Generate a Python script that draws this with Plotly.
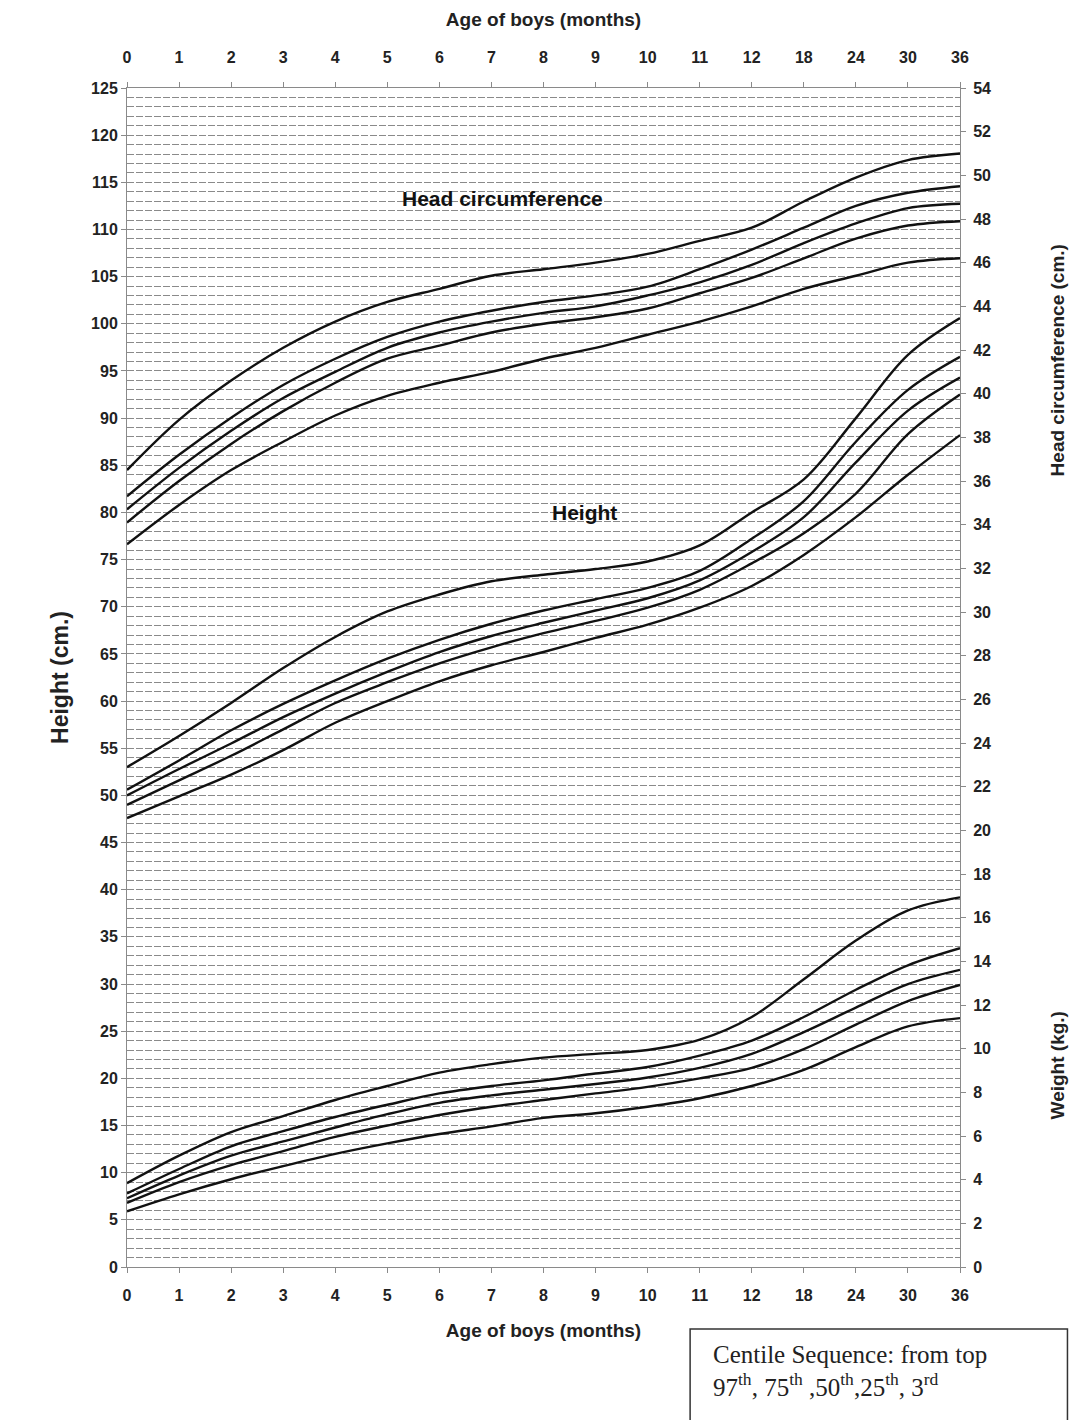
import plotly.graph_objects as go

# ---------------- data ----------------
age_labels = ["0", "1", "2", "3", "4", "5", "6", "7", "8", "9", "10", "11", "12",
              "18", "24", "30", "36"]
age_pos = list(range(len(age_labels)))
centiles = ["97th", "75th", "50th", "25th", "3rd"]

# Head circumference (cm) - right axis
head_97 = [36.5, 38.8, 40.6, 42.1, 43.3, 44.2, 44.8, 45.4, 45.7, 46.0, 46.4, 47.0, 47.6, 48.8, 49.9, 50.7, 51.0]
head_75 = [35.3, 37.2, 38.9, 40.4, 41.6, 42.6, 43.3, 43.8, 44.2, 44.5, 44.9, 45.7, 46.6, 47.6, 48.6, 49.2, 49.5]
head_50 = [34.7, 36.6, 38.3, 39.8, 41.0, 42.1, 42.8, 43.3, 43.7, 44.0, 44.5, 45.1, 45.9, 46.9, 47.8, 48.5, 48.7]
head_25 = [34.1, 36.0, 37.7, 39.2, 40.5, 41.6, 42.2, 42.8, 43.2, 43.5, 43.9, 44.6, 45.3, 46.2, 47.1, 47.7, 47.9]
head_3 = [33.1, 34.9, 36.5, 37.8, 39.0, 39.9, 40.5, 41.0, 41.6, 42.1, 42.7, 43.3, 44.0, 44.8, 45.4, 46.0, 46.2]

# Height (cm) - left axis
height_97 = [53.0, 56.3, 59.8, 63.5, 66.8, 69.5, 71.3, 72.7, 73.4, 74.0, 74.8, 76.5, 80.0, 83.5, 90.0, 96.7, 100.6]
height_75 = [50.6, 53.7, 56.9, 59.7, 62.2, 64.5, 66.5, 68.2, 69.6, 70.8, 72.0, 73.8, 77.2, 81.2, 87.5, 93.0, 96.5]
height_50 = [50.0, 52.8, 55.5, 58.3, 60.8, 63.1, 65.2, 66.9, 68.3, 69.6, 70.9, 72.8, 75.8, 79.5, 85.3, 90.8, 94.3]
height_25 = [49.0, 51.6, 54.2, 57.0, 59.8, 62.0, 64.0, 65.7, 67.2, 68.5, 69.9, 71.8, 74.6, 77.8, 82.0, 88.3, 92.5]
height_3 = [47.6, 49.9, 52.2, 54.8, 57.7, 60.0, 62.1, 63.8, 65.2, 66.7, 68.1, 69.9, 72.2, 75.5, 79.5, 84.0, 88.2]

# Weight (kg) - right axis
weight_97 = [3.84, 5.10, 6.18, 6.91, 7.65, 8.29, 8.90, 9.29, 9.59, 9.76, 9.94, 10.41, 11.45, 13.18, 14.95, 16.33, 16.93]
weight_75 = [3.37, 4.49, 5.53, 6.22, 6.87, 7.43, 7.95, 8.29, 8.55, 8.86, 9.16, 9.68, 10.37, 11.45, 12.70, 13.82, 14.60]
weight_50 = [3.15, 4.19, 5.10, 5.75, 6.39, 7.00, 7.52, 7.86, 8.12, 8.38, 8.68, 9.12, 9.76, 10.76, 11.88, 12.96, 13.61]
weight_25 = [2.94, 3.89, 4.67, 5.31, 5.96, 6.48, 6.96, 7.34, 7.65, 7.95, 8.25, 8.64, 9.12, 9.98, 11.10, 12.18, 12.92]
weight_3 = [2.55, 3.33, 4.02, 4.62, 5.18, 5.66, 6.09, 6.44, 6.83, 7.04, 7.34, 7.73, 8.29, 9.03, 10.07, 11.02, 11.40]

left_ticks = list(range(0, 126, 5))
right_ticks = list(range(0, 55, 2))

# ---------------- figure ----------------
SANS = "Liberation Sans, Arial, sans-serif"
SERIF = "Liberation Serif, Times New Roman, serif"
LINE = dict(color="#111111", width=2.4, shape="spline", smoothing=1.0)

fig = go.Figure()

groups = [
    ("Head circumference", [head_97, head_75, head_50, head_25, head_3], "y2"),
    ("Height", [height_97, height_75, height_50, height_25, height_3], "y"),
    ("Weight", [weight_97, weight_75, weight_50, weight_25, weight_3], "y2"),
]
for gname, series, yax in groups:
    for cname, vals in zip(centiles, series):
        fig.add_trace(go.Scatter(x=age_pos, y=vals, xaxis="x", yaxis=yax, mode="lines",
                                 line=LINE, name=f"{gname} {cname}", showlegend=False,
                                 hoverinfo="skip"))

# invisible trace to activate the top axis
fig.add_trace(go.Scatter(x=[age_pos[0], age_pos[-1]], y=[None, None], xaxis="x2", yaxis="y",
                         mode="lines", showlegend=False, hoverinfo="skip"))

tickfont = dict(family=SANS, size=16, color="#222", weight="bold")
titlefont = dict(family=SANS, size=19, color="#222", weight="bold")
axis_line = "#8a8a8a"
grid_col = "#8a8a8a"

xcommon = dict(
    range=[0, 16], tickmode="array", tickvals=age_pos, ticktext=age_labels,
    showgrid=False, zeroline=False, showline=True, linecolor=axis_line, linewidth=1,
    ticks="outside", ticklen=5, tickcolor=axis_line, tickfont=tickfont,
)

fig.update_layout(
    width=1085, height=1420,
    margin=dict(l=127, r=125, t=88, b=153),
    paper_bgcolor="white", plot_bgcolor="white",
    showlegend=False,
    xaxis=dict(**xcommon, side="bottom", ticklabelstandoff=9,
               title=dict(text="Age of boys (months)", font=titlefont, standoff=20)),
    xaxis2=dict(**xcommon, side="top", overlaying="x", anchor="y", matches="x",
                ticklabelstandoff=13,
                title=dict(text="Age of boys (months)", font=titlefont, standoff=16)),
    yaxis=dict(range=[0, 125], tickmode="array", tickvals=left_ticks,
               showline=True, linecolor=axis_line, linewidth=1, zeroline=False,
               ticks="outside", ticklen=5, tickcolor=axis_line, tickfont=tickfont,
               showgrid=True, gridcolor=grid_col, gridwidth=1, griddash="7px,2px",
               minor=dict(dtick=1, tick0=0, showgrid=True, gridcolor=grid_col,
                          gridwidth=1, griddash="7px,2px", ticks=""),
               title=dict(text="Height (cm.)", font=dict(family=SANS, size=23, color="#222",
                                                         weight="bold"), standoff=16)),
    yaxis2=dict(range=[0, 54], tickmode="array", tickvals=right_ticks,
                overlaying="y", side="right", anchor="x",
                showline=True, linecolor=axis_line, linewidth=1, zeroline=False,
                ticks="outside", ticklen=5, tickcolor=axis_line, tickfont=tickfont,
                ticklabelstandoff=4, showgrid=False),
)

annotations = [
    dict(text="Head circumference", x=7.22, y=113.3, xref="x", yref="y",
         showarrow=False, font=dict(family=SANS, size=21, color="#111", weight="bold")),
    dict(text="Height", x=8.78, y=80.0, xref="x", yref="y",
         showarrow=False, font=dict(family=SANS, size=21, color="#111", weight="bold")),
    dict(text="Head circumference (cm.)", x=1.1165, y=0.769, xref="paper", yref="paper",
         xanchor="center", yanchor="middle", textangle=-90, showarrow=False,
         font=dict(family=SANS, size=19, color="#222", weight="bold")),
    dict(text="Weight (kg.)", x=1.1165, y=0.171, xref="paper", yref="paper",
         xanchor="center", yanchor="middle", textangle=-90, showarrow=False,
         font=dict(family=SANS, size=19, color="#222", weight="bold")),
    dict(text="Centile Sequence: from top<br>97<sup>th</sup>, 75<sup>th</sup> ,50<sup>th</sup>,25<sup>th</sup>, 3<sup>rd</sup>",
         x=0.701, y=-0.061, xref="paper", yref="paper", xanchor="left", yanchor="top",
         align="left", showarrow=False,
         font=dict(family=SERIF, size=25, color="#222")),
]
fig.update_layout(annotations=annotations)

fig.add_shape(type="rect", xref="paper", yref="paper",
              x0=0.676, x1=1.129, y0=-0.14, y1=-0.0526,
              line=dict(color="#333", width=1.5), fillcolor="rgba(0,0,0,0)")

fig.write_html("out.html")
